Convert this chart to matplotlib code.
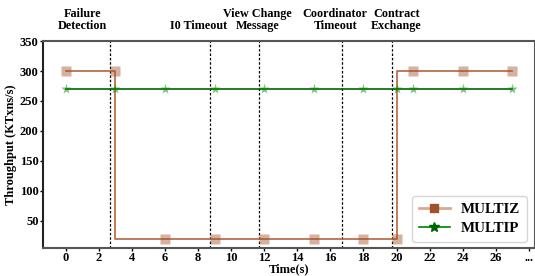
import numpy as np
import matplotlib.pyplot as plt
from matplotlib.lines import Line2D

plt.rcParams['font.family'] = ['Liberation Serif', 'DejaVu Serif']
plt.rcParams['font.weight'] = 'bold'

# Dati
multiz_t = [0, 3, 3, 6, 9, 12, 15, 18, 20, 20, 21, 24, 27]
multiz_v = [300, 300, 20, 20, 20, 20, 20, 20, 20, 300, 300, 300, 300]
multiz_marks = [0, 1, 3, 4, 5, 6, 7, 8, 10, 11, 12]

multip_t = [0, 3, 6, 9, 12, 15, 18, 20, 21, 24, 27]
multip_v = [270] * len(multip_t)

eventi_t = [2.7, 8.7, 11.7, 16.7, 19.7]
eventi_x = [1.0, 8.0, 11.6, 16.3, 20.0]
eventi_lab = ["Failure\nDetection", "I0 Timeout", "View Change\nMessage",
              "Coordinator\nTimeout", "Contract\nExchange"]

xticks = list(range(0, 29, 2))
xlabels = [str(t) for t in range(0, 27, 2)] + ["..."]

fig = plt.figure(figsize=(5.35, 2.76), dpi=100)
ax = fig.add_axes([0.080, 0.103, 0.92, 0.748])

ax.plot(multiz_t, multiz_v, color='#b8643c', lw=1.2, marker='s', ms=6.5,
        mfc=(0.63, 0.32, 0.18, 0.45), mec='none', markevery=multiz_marks, zorder=3)
ax.plot(multip_t, multip_v, color='#006400', lw=1.2, marker='*', ms=8,
        mfc=(0.0, 0.55, 0.0, 0.5), mec='none', zorder=3)

for t in eventi_t:
    ax.axvline(t, color='black', ls=(0, (2, 1.5)), lw=0.9, zorder=2)

for x, lab in zip(eventi_x, eventi_lab):
    ax.text(x, 365, lab, ha='center', va='bottom', fontsize=8.7,
            fontweight='bold', linespacing=1.0)

ax.set_xlim(-1.39, 28.37)
ax.set_ylim(5, 350)
ax.set_xticks(xticks)
ax.set_xticklabels(xlabels)
ax.set_yticks([50, 100, 150, 200, 250, 300, 350])
ax.tick_params(labelsize=9, length=2, width=1, pad=1)
for s in ['left', 'bottom', 'top', 'right']:
    ax.spines[s].set_color('#555555')
    ax.spines[s].set_linewidth(1.5)
ax.spines['left'].set_color('#222222')

ax.set_xlabel("Time(s)", fontsize=9, fontweight='bold', labelpad=-0.5)
ax.set_ylabel("Throughput (KTxns/s)", fontsize=9, fontweight='bold', labelpad=2)

h1 = Line2D([], [], color='#d9a98f', lw=2, marker='s', ms=6, mfc='#a0522d', mec='#a0522d')
h2 = Line2D([], [], color='#008000', lw=1.2, marker='*', ms=7, mfc='#006400', mec='#006400')
ax.legend([h1, h2], ["MULTIZ", "MULTIP"], loc='lower right',
          prop={'weight': 'bold', 'size': 10.8}, handlelength=2.1,
          handletextpad=0.7, labelspacing=0.35, borderpad=0.45,
          bbox_to_anchor=(0.995, 0.0), borderaxespad=0.4)

fig.savefig('out.png', dpi=100)
